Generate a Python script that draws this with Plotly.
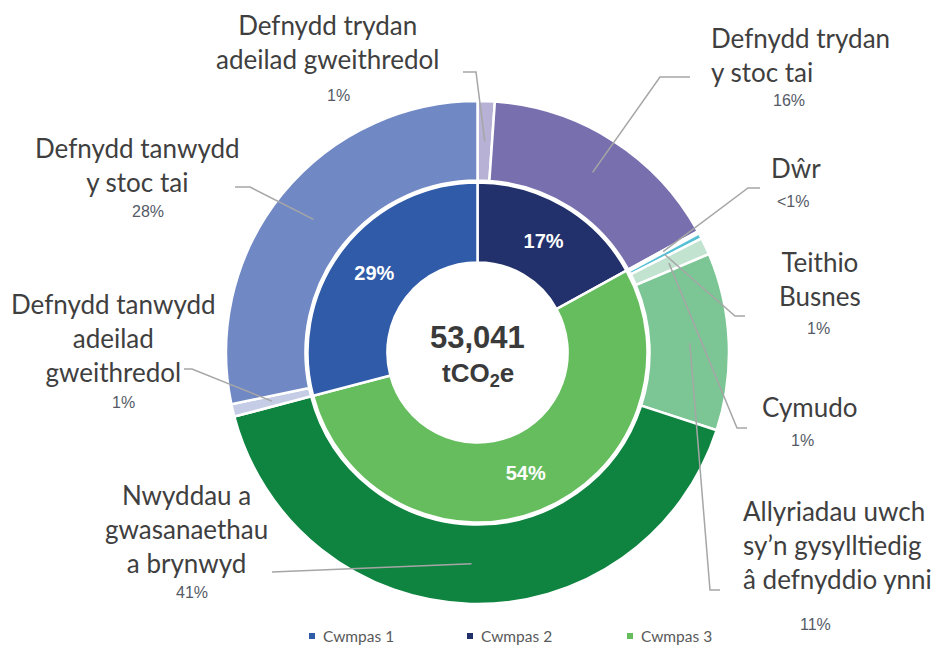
import math
import plotly.graph_objects as go

# ---------------- data ----------------
scope_names = ["Cwmpas 2", "Cwmpas 3", "Cwmpas 1"]          # inner ring, clockwise from 12 o'clock
scope_share = [17.0, 53.9, 29.1]                             # % of total
scope_text = ["17%", "54%", "29%"]
scope_colors = ["#22306B", "#66BD5E", "#2F5BA8"]

source_names = [
    "Defnydd trydan adeilad gweithredol",
    "Defnydd trydan y stoc tai",
    "Dŵr",
    "Teithio Busnes",
    "Cymudo",
    "Allyriadau uwch sy’n gysylltiedig â defnyddio ynni",
    "Nwyddau a gwasanaethau a brynwyd",
    "Defnydd tanwydd adeilad gweithredol",
    "Defnydd tanwydd y stoc tai",
]
source_share = [1.1, 15.9, 0.15, 0.35, 1.1, 11.4, 40.9, 0.8, 28.3]   # % of total
source_text = ["1%", "16%", "<1%", "1%", "1%", "11%", "41%", "1%", "28%"]
source_colors = ["#B6B1D5", "#7870AE", "#A8DCE6", "#56C1D4", "#C2E3D0",
                 "#7CC594", "#0F8340", "#C4CCE6", "#7088C4"]

legend_names = ["Cwmpas 1", "Cwmpas 2", "Cwmpas 3"]
legend_colors = ["#2F5BA8", "#22306B", "#66BD5E"]

total_value = "53,041"
total_unit = "tCO<sub>2</sub>e"

# ---------------- layout geometry (pixels) ----------------
W, H = 938, 646
CX, CY = 477.5, 352.5
R_OUT = 251.5
HOLE_OUT = 0.684
R_IN = 170.0
HOLE_IN = 0.53
LEGEND_Y = 636
LEGEND_X = [312, 470, 630]


def px(x):
    return x / W


def py(y):
    return 1 - y / H


label_font = dict(family="Lato, 'Open Sans', sans-serif", size=26, color="#3F3F3F")
pct_font = dict(family="'Liberation Sans', Arial, sans-serif", size=16, color="#555A66")

# per outer slice: label lines, anchor, block center, pct position, leader radius fraction, leader tail points
label_cfg = [
    dict(lines=["Defnydd trydan", "adeilad gweithredol"], xa="center", x=327, y=42, pct=(338, 96),
         f=0.84, tail=[(476, 72), (463, 72)]),
    dict(lines=["Defnydd trydan", "y stoc tai"], xa="left", x=709, y=55, pct=(789, 100),
         f=0.85, tail=[(660, 77), (690, 77)]),
    dict(lines=["Dŵr"], xa="center", x=796, y=168, pct=(793, 201),
         f=0.84, tail=[(748, 188), (760, 188)]),
    dict(lines=["Teithio", "Busnes"], xa="center", x=820, y=279, pct=(818, 328),
         f=0.84, tail=[(735, 316), (745, 316)]),
    dict(lines=["Cymudo"], xa="center", x=810, y=407, pct=(802, 440),
         f=0.84, tail=[(737, 428), (747, 428)]),
    dict(lines=["Allyriadau uwch", "sy’n gysylltiedig", "â defnyddio ynni"], xa="left", x=741, y=545,
         pct=(815, 624), f=0.845, tail=[(710, 590), (720, 590)]),
    dict(lines=["Nwyddau a", "gwasanaethau", "a brynwyd"], xa="center", x=186, y=529, pct=(192, 592),
         f=0.84, tail=[(272, 572)]),
    dict(lines=["Defnydd tanwydd", "adeilad", "gweithredol"], xa="center", x=113, y=338, pct=(123, 402),
         f=0.84, tail=[(192, 369), (184, 369)]),
    dict(lines=["Defnydd tanwydd", "y stoc tai"], xa="center", x=137, y=165, pct=(148, 211),
         f=0.84, tail=[(250, 187), (235, 187)]),
]

fig = go.Figure()

fig.add_trace(go.Pie(
    labels=source_names, values=source_share, sort=False, direction="clockwise", rotation=0,
    hole=HOLE_OUT, textinfo="none", hoverinfo="label+percent", showlegend=False,
    marker=dict(colors=source_colors, line=dict(color="white", width=2.5)),
    domain=dict(x=[px(CX - R_OUT), px(CX + R_OUT)], y=[py(CY + R_OUT), py(CY - R_OUT)]),
))

fig.add_trace(go.Pie(
    labels=scope_names, values=scope_share, text=scope_text, sort=False, direction="clockwise",
    rotation=0, hole=HOLE_IN, texttemplate="%{text}", textposition="inside",
    insidetextorientation="horizontal", hoverinfo="label+percent", showlegend=False,
    textfont=dict(family="'Liberation Sans', Arial, sans-serif", size=20, color="white", weight="bold"),
    marker=dict(colors=scope_colors, line=dict(color="white", width=2.5)),
    domain=dict(x=[px(CX - R_IN), px(CX + R_IN)], y=[py(CY + R_IN), py(CY - R_IN)]),
))

annotations = []
shapes = []
total = sum(source_share)
cum = 0.0
for i, (share, pct) in enumerate(zip(source_share, source_text)):
    cfg = label_cfg[i]
    mid = 2 * math.pi * (cum + share / 2) / total
    cum += share
    r = cfg["f"] * R_OUT
    sx, sy = CX + r * math.sin(mid), CY - r * math.cos(mid)
    pts = [(sx, sy)] + cfg["tail"]
    path = "M " + " L ".join(f"{px(a):.5f},{py(b):.5f}" for a, b in pts)
    shapes.append(dict(type="path", xref="paper", yref="paper", path=path,
                       line=dict(color="#A6A6A6", width=1.5)))
    annotations.append(dict(text="<br>".join(cfg["lines"]), x=px(cfg["x"]), y=py(cfg["y"]),
                            xref="paper", yref="paper", xanchor=cfg["xa"], yanchor="middle",
                            align=cfg["xa"], showarrow=False, font=label_font))
    annotations.append(dict(text=pct, x=px(cfg["pct"][0]), y=py(cfg["pct"][1]), xref="paper",
                            yref="paper", xanchor="center", yanchor="middle", showarrow=False,
                            font=pct_font))

annotations.append(dict(text=f"<b>{total_value}</b>", x=px(CX), y=py(337), xref="paper", yref="paper",
                        showarrow=False, xanchor="center", yanchor="middle",
                        font=dict(family="'Liberation Sans', Arial, sans-serif", size=31, color="#3A3A3A")))
annotations.append(dict(text=f"<b>{total_unit}</b>", x=px(CX), y=py(374), xref="paper", yref="paper",
                        showarrow=False, xanchor="center", yanchor="middle",
                        font=dict(family="'Liberation Sans', Arial, sans-serif", size=26, color="#3A3A3A")))

# legend (drawn as markers + text)
for name, col, lx in zip(legend_names, legend_colors, LEGEND_X):
    shapes.append(dict(type="rect", xref="paper", yref="paper",
                       x0=px(lx - 3), x1=px(lx + 3), y0=py(LEGEND_Y + 3), y1=py(LEGEND_Y - 3),
                       fillcolor=col, line=dict(width=0)))
    annotations.append(dict(text=name, x=px(lx + 9), y=py(LEGEND_Y), xref="paper", yref="paper",
                            xanchor="left", yanchor="middle", showarrow=False,
                            font=dict(family="Lato, 'Open Sans', sans-serif", size=15.5, color="#595959")))

fig.update_layout(
    width=W, height=H, margin=dict(l=0, r=0, t=0, b=0),
    paper_bgcolor="white", plot_bgcolor="white",
    annotations=annotations, shapes=shapes,
    showlegend=False,
)

fig.write_html("out.html", config={"displayModeBar": False},
               post_script="document.body.style.margin='0px';document.body.style.overflow='hidden';")
